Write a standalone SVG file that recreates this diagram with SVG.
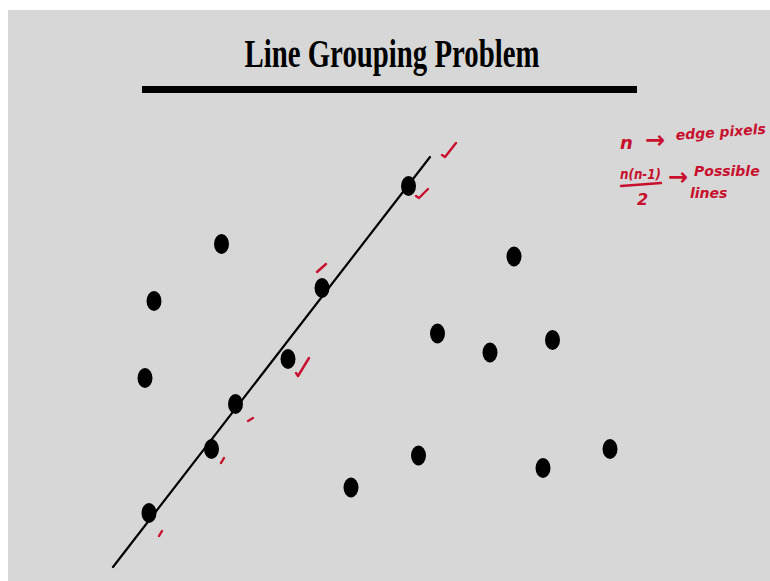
<svg xmlns="http://www.w3.org/2000/svg" width="770" height="581" viewBox="0 0 770 581">
<style>
.dot{fill:#000}
.chk{fill:none;stroke:#c8102e;stroke-width:2.4;stroke-linecap:round;stroke-linejoin:round}
.hw{fill:#c8102e;font-family:"DejaVu Sans",sans-serif;font-style:italic;font-weight:bold}
</style>
<rect x="0" y="0" width="770" height="581" fill="#ffffff"/>
<rect x="8" y="10" width="762" height="571" fill="#d7d7d7"/>
<g id="title">
<text x="392" y="67" text-anchor="middle" font-family="Liberation Serif, serif" font-weight="bold" font-size="41" textLength="295" lengthAdjust="spacingAndGlyphs">Line Grouping Problem</text>
<rect x="142" y="86" width="495" height="7" fill="#000"/>
</g>
<g id="connectors">
<line x1="430" y1="157" x2="113" y2="567" stroke="#000" stroke-width="2.2" stroke-linecap="round"/>
</g>
<g id="p1"><ellipse class="dot" cx="221.5" cy="244" rx="7.5" ry="10"/></g>
<g id="p2"><ellipse class="dot" cx="154" cy="301" rx="7.5" ry="10"/></g>
<g id="p3"><ellipse class="dot" cx="145" cy="378" rx="7.5" ry="10"/></g>
<g id="p4"><ellipse class="dot" cx="408.5" cy="186" rx="7.5" ry="10"/></g>
<g id="p5"><ellipse class="dot" cx="322" cy="288" rx="7.5" ry="10"/></g>
<g id="p6"><ellipse class="dot" cx="288" cy="359" rx="7.5" ry="10"/></g>
<g id="p7"><ellipse class="dot" cx="235.5" cy="404" rx="7.5" ry="10"/></g>
<g id="p8"><ellipse class="dot" cx="211.5" cy="449" rx="7.5" ry="10"/></g>
<g id="p9"><ellipse class="dot" cx="149" cy="513" rx="7.5" ry="10"/></g>
<g id="p10"><ellipse class="dot" cx="514" cy="256.5" rx="7.5" ry="10"/></g>
<g id="p11"><ellipse class="dot" cx="437.5" cy="333.5" rx="7.5" ry="10"/></g>
<g id="p12"><ellipse class="dot" cx="490" cy="352.5" rx="7.5" ry="10"/></g>
<g id="p13"><ellipse class="dot" cx="552.5" cy="340" rx="7.5" ry="10"/></g>
<g id="p14"><ellipse class="dot" cx="418.5" cy="455.5" rx="7.5" ry="10"/></g>
<g id="p15"><ellipse class="dot" cx="543" cy="468" rx="7.5" ry="10"/></g>
<g id="p16"><ellipse class="dot" cx="610" cy="449" rx="7.5" ry="10"/></g>
<g id="p17"><ellipse class="dot" cx="351" cy="487.5" rx="7.5" ry="10"/></g>
<g id="marks">
<path class="chk" d="M442,155 L445,157 L456,143"/>
<path class="chk" d="M416,196 L419,198 L428,189"/>
<path class="chk" d="M317,272 L326,264"/>
<path class="chk" d="M296,373 L298,376 L309,358"/>
<path class="chk" d="M248,421 L253,418"/>
<path class="chk" d="M221,463 L224,458"/>
<path class="chk" d="M159,536 L162,531"/>
</g>
<g id="notes">
<text class="hw" x="620" y="149" font-size="18">n</text>
<text class="hw" x="645" y="148" font-size="24">→</text>
<text class="hw" x="676" y="140" font-size="14" transform="rotate(-4 676 140)">edge pixels</text>
<text class="hw" x="620" y="179" font-size="14" textLength="41" lengthAdjust="spacingAndGlyphs">n(n-1)</text>
<path class="chk" d="M621,186 L661,183"/>
<text class="hw" x="637" y="205" font-size="16">2</text>
<text class="hw" x="668" y="185" font-size="24">→</text>
<text class="hw" x="694" y="176" font-size="14">Possible</text>
<text class="hw" x="690" y="198" font-size="14">lines</text>
</g>
</svg>
